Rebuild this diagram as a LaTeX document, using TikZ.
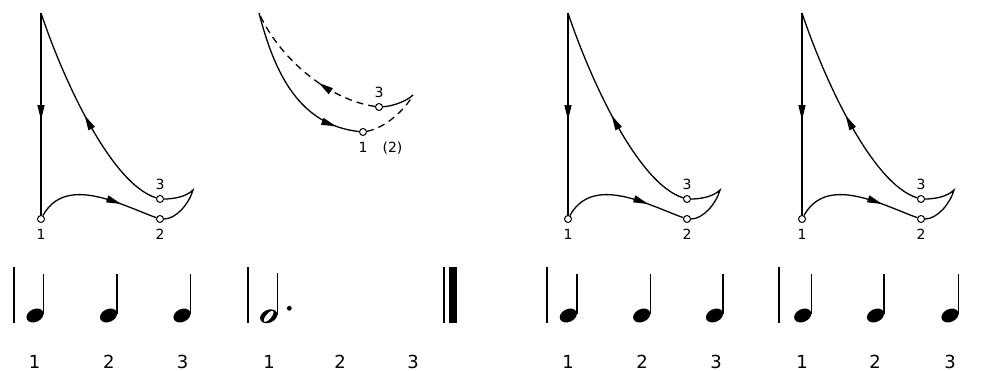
\documentclass[tikz,border=0pt]{standalone}
\usepackage{fontspec}
\setmainfont{DejaVu Sans}
\usetikzlibrary{arrows.meta,decorations.markings}
\begin{document}
\begin{tikzpicture}[x=1pt,y=-1pt,
  vtx/.style={circle,draw,fill=white,line width=1pt,inner sep=0pt,minimum size=7pt},
  curve/.style={line width=1.3pt},
  dashedcurve/.style={line width=1.3pt,dash pattern=on 7pt off 5pt},
  midarrow/.style={postaction={decorate,decoration={markings,mark=at position #1 with {\arrow{Triangle[length=15pt,width=7pt]}}}}},
  lab/.style={font=\fontsize{14}{16}\selectfont},
  num/.style={font=\fontsize{18}{20}\selectfont},
  barline/.style={line width=2pt},
  stem/.style={line width=1.4pt}]
\useasboundingbox (0,0) rectangle (1003,371);

% loop diagrams 1, 3, 4
\foreach \d/\ox in {a/41,c/568,d/802}{
  \begin{scope}[shift={(\ox,219)}]
    \coordinate (\d0) at (0,-206);
    \coordinate (\d4) at (152,-29);
    \node[vtx,label={[lab,label distance=2.5pt]below:1}] (\d1) at (0,0) {};
    \node[vtx,label={[lab,label distance=2.5pt]below:2}] (\d2) at (119,0) {};
    \node[vtx,label={[lab,label distance=1.5pt]above:3}] (\d3) at (119,-20) {};
    \draw[curve,midarrow=0.53] (\d0) -- (\d1);
    \draw[curve,midarrow=0.7] (\d1) .. controls (25,-45) and (80,-14) .. (\d2);
    \draw[curve] (\d2) .. controls (135,0) and (148,-15) .. (\d4)
                       .. controls (145,-22) and (132,-20) .. (\d3);
    \draw[curve,midarrow=0.5] (\d3) .. controls (70,-35) and (22,-140) .. (\d0);
  \end{scope}
}

% diagram 2
\coordinate (b0) at (259,13);
\coordinate (b4) at (413,95);
\node[vtx,label={[lab,label distance=2.5pt]below:1}] (b1) at (363,132) {};
\node[vtx,label={[lab,label distance=1.5pt]above:3}] (b3) at (379,107) {};
\node[lab] (b2) at (392.5,148.5) {(2)};
\draw[curve,midarrow=0.86] (b0) .. controls (275,75) and (300,125) .. (b1);
\draw[dashedcurve,midarrow=0.4] (b3) .. controls (330,100) and (280,60) .. (b0);
\draw[dashedcurve] (b1) .. controls (385,128) and (405,110) .. (b4);
\draw[curve] (b3) .. controls (395,106) and (408,100) .. (b4);

% barlines
\foreach \x in {14.3,248.3,547,779.3}
  \draw[barline] (\x,266.7) -- (\x,322.7);
\draw[barline] (444,266.7) -- (444,323.3);
\fill (449.3,266.7) rectangle (456.7,323.3);

% quarter notes
\foreach \x in {35,108.5,182,568.3,641.7,714.5,802.7,875.5,950}{
  \fill[rotate around={25:(\x,315.5)}] (\x,315.5) ellipse[x radius=9pt,y radius=6.4pt];
  \draw[stem] (\x+8.6,274) -- (\x+8.6,314);
}

% dotted half note
\fill[rotate around={25:(268.7,316.3)}] (268.7,316.3) ellipse[x radius=9pt,y radius=6.4pt];
\fill[white,rotate around={50:(268.7,316.3)}] (268.7,316.3) ellipse[x radius=6.8pt,y radius=2.6pt];
\draw[stem] (277.2,273.3) -- (277.2,315);
\fill (289.3,308.3) circle[radius=2.4pt];

% counts
\foreach \n/\x/\t in {m1/34.5/1,m2/108.8/2,m3/182.5/3,m4/269/1,m5/340/2,m6/413/3,
                      m7/568/1,m8/642/2,m9/716/3,m10/802/1,m11/875/2,m12/950/3}
  \node[num] (\n) at (\x,361.7) {\t};
\end{tikzpicture}
\end{document}
